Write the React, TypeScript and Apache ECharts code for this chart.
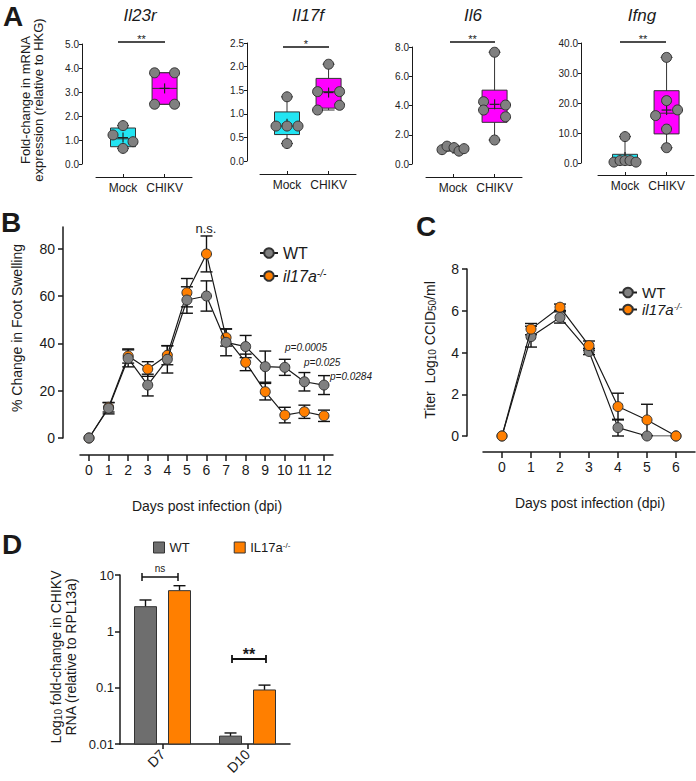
import React, { useEffect, useRef } from 'react';
import * as echarts from 'echarts';

const FONT = '"Liberation Sans", Arial, Helvetica, sans-serif';
const INK = '#1a1a1a';

// ---------------- Panel A data ----------------
const boxCategories = ['Mock', 'CHIKV'];
const geneNames = ['Il23r', 'Il17f', 'Il6', 'Ifng'];
const geneAxisMax = [5, 2.5, 8, 40];
const geneAxisStep = [1, 0.5, 2, 10];
const geneSignificance = ['**', '*', '**', '**'];

// box stats: [min, q1, median, q3, max, mean]
const il23rMockBox = [0.65, 0.72, 1.05, 1.5, 1.6, 1.1];
const il23rChikvBox = [2.49, 2.49, 3.15, 3.8, 3.8, 3.15];
const il17fMockBox = [0.37, 0.56, 0.74, 1.04, 1.36, 0.79];
const il17fChikvBox = [1.08, 1.12, 1.47, 1.75, 2.05, 1.45];
const il6MockBox = [0.88, 0.95, 1.05, 1.15, 1.22, 1.05];
const il6ChikvBox = [1.64, 2.85, 3.8, 5.05, 7.64, 4.08];
const ifngMockBox = [0.3, 0.3, 0.8, 2.9, 8.8, 1.97];
const ifngChikvBox = [5.1, 9.7, 16.6, 24.1, 35.2, 17.65];

// individual mice
const il23rMockPts = [1.6, 1.21, 0.93, 0.65];
const il23rChikvPts = [3.8, 3.8, 2.49, 2.49];
const il17fMockPts = [1.36, 0.74, 0.74, 0.74, 0.37];
const il17fChikvPts = [2.05, 1.47, 1.47, 1.08, 1.18];
const il6MockPts = [0.98, 1.22, 1.12, 0.88, 1.05];
const il6ChikvPts = [7.64, 4.26, 3.69, 4.03, 3.23, 1.64];
const ifngMockPts = [8.8, 0.3, 0.8, 0.8, 0.8, 0.3];
const ifngChikvPts = [35.2, 20.8, 17.7, 15.8, 11.3, 5.1];

// ---------------- Panel B data ----------------
const swellingDays = [0, 1, 2, 3, 4, 5, 6, 7, 8, 9, 10, 11, 12];
const wtSwelling = [0, 12.6, 33.7, 22.4, 33.3, 58.4, 60.1, 40.5, 38.7, 30.2, 29.9, 23.8, 22.4];
const wtSwellingErr = [0, 2.4, 3.6, 4.6, 5.8, 5.6, 6.4, 5.7, 4.7, 6.6, 3.4, 3.9, 4.0];
const koSwelling = [0, 13.0, 34.7, 29.2, 35.0, 61.5, 77.9, 42.5, 32.0, 19.6, 9.7, 11.1, 9.4];
const koSwellingErr = [0, 2.0, 3.0, 3.1, 4.0, 6.0, 7.6, 3.6, 3.5, 3.5, 3.3, 2.8, 2.4];

// ---------------- Panel C data ----------------
const titerDays = [0, 1, 2, 3, 4, 5, 6];
const wtTiter = [0, 4.76, 5.68, 4.05, 0.4, 0, 0];
const wtTiterErr = [0, 0.5, 0.27, 0.15, 0.4, 0, 0];
const koTiter = [0, 5.12, 6.17, 4.33, 1.41, 0.77, 0];
const koTiterErr = [0, 0.27, 0.15, 0.22, 0.64, 0.75, 0];

// ---------------- Panel D data ----------------
const rnaCategories = ['D7', 'D10'];
const rnaTicks = [0.01, 0.1, 1, 10];
const wtRna = [2.74, 0.0138];
const wtRnaErr = [0.86, 0.0019];
const koRna = [5.27, 0.091];
const koRnaErr = [1.19, 0.02];

// ---------------- styling / layout ----------------
const CYAN = '#22e4f2';
const MAGENTA = '#ff00ff';
const GRAY_PT = '#808080';
const ORANGE = '#ff7f00';
const BAR_GRAY = '#6e6e6e';

const aLayout = [
  { left: 96, top: 44, height: 120, yOff: 14, xOff: 13 },
  { left: 260, top: 43, height: 118, yOff: 13, xOff: 13 },
  { left: 426, top: 47, height: 117, yOff: 14, xOff: 13 },
  { left: 598, top: 43, height: 120, yOff: 17, xOff: 12 },
];
const aPanels = [
  { mock: il23rMockBox, chikv: il23rChikvBox, mockPts: il23rMockPts, chikvPts: il23rChikvPts, mockJit: [0, -10, 10, 0], chikvJit: [-10, 10, -10, 10] },
  { mock: il17fMockBox, chikv: il17fChikvBox, mockPts: il17fMockPts, chikvPts: il17fChikvPts, mockJit: [0, -11, 0, 11, 0], chikvJit: [0, -11, 11, -11, 11] },
  { mock: il6MockBox, chikv: il6ChikvBox, mockPts: il6MockPts, chikvPts: il6ChikvPts, mockJit: [-11, -6, 1, 6, 11], chikvJit: [0, -11, -11, 11, 11, 0] },
  { mock: ifngMockBox, chikv: ifngChikvBox, mockPts: ifngMockPts, chikvPts: ifngChikvPts, mockJit: [0, -11, -5, 0, 5, 11], chikvJit: [0, 0, 11, -11, 0, 0] },
];

const lineStyleAxis = { color: INK, width: 1 };

function boxRender(params: any, api: any) {
  const x = api.value(0);
  const p = (v: number) => api.coord([x, v]);
  const [cx, yMin] = p(api.value(1));
  const yQ1 = p(api.value(2))[1];
  const yMed = p(api.value(3))[1];
  const yQ3 = p(api.value(4))[1];
  const yMax = p(api.value(5))[1];
  const yMean = p(api.value(6))[1];
  const hw = 12.5;
  const fill = params.dataIndex === 0 ? CYAN : MAGENTA;
  const st = { stroke: '#333', lineWidth: 1 };
  return {
    type: 'group',
    children: [
      { type: 'line', shape: { x1: cx, y1: yMax, x2: cx, y2: yMin }, style: st },
      { type: 'line', shape: { x1: cx - 6, y1: yMax, x2: cx + 6, y2: yMax }, style: st },
      { type: 'line', shape: { x1: cx - 6, y1: yMin, x2: cx + 6, y2: yMin }, style: st },
      { type: 'rect', shape: { x: cx - hw, y: yQ3, width: hw * 2, height: Math.max(yQ1 - yQ3, 1) }, style: { fill, stroke: '#333', lineWidth: 1 } },
      { type: 'line', shape: { x1: cx - hw, y1: yMed, x2: cx + hw, y2: yMed }, style: st },
      { type: 'line', shape: { x1: cx - 5, y1: yMean, x2: cx + 5, y2: yMean }, style: { stroke: '#222', lineWidth: 1.2 } },
      { type: 'line', shape: { x1: cx, y1: yMean - 5, x2: cx, y2: yMean + 5 }, style: { stroke: '#222', lineWidth: 1.2 } },
    ],
  };
}

function makeErrRender(capHalf: number, dx: number, upOnly: boolean) {
  return (params: any, api: any) => {
    const x = api.value(0);
    const m = api.value(1);
    const e = api.value(2);
    if (!e) return null;
    const top = api.coord([x, m + e]);
    const bot = api.coord([x, upOnly ? m : m - e]);
    const cx = top[0] + dx;
    const st = { stroke: '#111', lineWidth: 1.4 };
    const ch: any[] = [
      { type: 'line', shape: { x1: cx, y1: top[1], x2: cx, y2: bot[1] }, style: st },
      { type: 'line', shape: { x1: cx - capHalf, y1: top[1], x2: cx + capHalf, y2: top[1] }, style: st },
    ];
    if (!upOnly) ch.push({ type: 'line', shape: { x1: cx - capHalf, y1: bot[1], x2: cx + capHalf, y2: bot[1] }, style: st });
    return { type: 'group', children: ch };
  };
}

function makeBarRender(dx: number, fill: string) {
  return (params: any, api: any) => {
    const k = api.value(0);
    const top = api.coord([k, api.value(1)]);
    const base = api.coord([k, rnaTicks[0]]);
    const cx = top[0] + dx;
    return {
      type: 'rect',
      shape: { x: cx - 11, y: top[1], width: 22, height: base[1] - top[1] },
      style: { fill, stroke: '#333', lineWidth: 1 },
    };
  };
}

function txt(x: number, y: number, text: string, o: any = {}) {
  return {
    type: 'text',
    x,
    y,
    rotation: o.rotation || 0,
    silent: true,
    style: {
      text,
      fill: o.fill || INK,
      fontSize: o.fontSize || 12,
      fontFamily: FONT,
      fontStyle: o.fontStyle || 'normal',
      fontWeight: o.fontWeight || 'normal',
      lineHeight: o.lineHeight,
      rich: o.rich,
      align: o.align || 'center',
      textAlign: o.align || 'center',
      verticalAlign: 'middle',
      textVerticalAlign: 'middle',
    },
  };
}
function ln(x1: number, y1: number, x2: number, y2: number, w = 1.5) {
  return { type: 'line', silent: true, shape: { x1, y1, x2, y2 }, style: { stroke: '#111', lineWidth: w } };
}

function buildOption() {
  const grid: any[] = [];
  const xAxis: any[] = [];
  const yAxis: any[] = [];
  const series: any[] = [];
  const graphics: any[] = [];

  // ---------- Panel A ----------
  aLayout.forEach((L, i) => {
    grid.push({ left: L.left, top: L.top, width: 96, height: L.height, containLabel: false, outerBoundsMode: 'none' });
    xAxis.push({
      gridIndex: i, type: 'value', min: 0.35, max: 2.66, offset: L.xOff,
      axisLine: { show: true, onZero: false, lineStyle: lineStyleAxis },
      axisTick: { show: true, customValues: [1, 2], length: 3, inside: true, lineStyle: lineStyleAxis },
      axisLabel: {
        customValues: [1, 2], fontSize: 12, color: INK, margin: 5, fontFamily: FONT,
        formatter: (v: number) => (v === 1 ? boxCategories[0] : v === 2 ? boxCategories[1] : ''),
      },
      splitLine: { show: false },
    });
    yAxis.push({
      gridIndex: i, type: 'value', min: 0, max: geneAxisMax[i], interval: geneAxisStep[i], offset: L.yOff,
      axisLine: { show: true, onZero: false, lineStyle: lineStyleAxis },
      axisTick: { show: true, length: 3, lineStyle: lineStyleAxis },
      axisLabel: { fontSize: 10, color: '#222', margin: 3, fontFamily: FONT, formatter: (v: number) => v.toFixed(1) },
      splitLine: { show: false },
    });
    const P = aPanels[i];
    series.push({
      type: 'custom', xAxisIndex: i, yAxisIndex: i, silent: true, z: 2,
      renderItem: boxRender,
      encode: { x: 0, y: [1, 2, 3, 4, 5, 6] },
      data: [[1, ...P.mock], [2, ...P.chikv]],
    });
    series.push({
      type: 'scatter', xAxisIndex: i, yAxisIndex: i, silent: true, z: 3,
      symbol: 'circle', symbolSize: 10,
      itemStyle: { color: GRAY_PT, borderColor: '#333', borderWidth: 1, opacity: 1 },
      data: [
        ...P.mockPts.map((v, k) => ({ value: [1, v], symbolOffset: [P.mockJit[k], 0] })),
        ...P.chikvPts.map((v, k) => ({ value: [2, v], symbolOffset: [P.chikvJit[k], 0] })),
      ],
    });
  });

  // ---------- Panel B (grid 4) ----------
  grid.push({ left: 80, top: 227, width: 253, height: 211, containLabel: false, outerBoundsMode: 'none' });
  xAxis.push({
    gridIndex: 4, type: 'value', min: -0.46, max: 12.46, offset: 17,
    axisLine: { show: true, onZero: false, lineStyle: { color: INK, width: 1.5 } },
    axisTick: { show: true, customValues: swellingDays, length: 6, lineStyle: { color: INK, width: 1.5 } },
    axisLabel: { customValues: swellingDays, fontSize: 14, color: INK, margin: 8, fontFamily: FONT, formatter: (v: number) => String(v) },
    splitLine: { show: false },
  });
  yAxis.push({
    gridIndex: 4, type: 'value', min: 0, max: 89.3, offset: 17,
    axisLine: { show: true, onZero: false, lineStyle: { color: INK, width: 1.5 } },
    axisTick: { show: true, customValues: [0, 20, 40, 60, 80], length: 5, lineStyle: { color: INK, width: 1.5 } },
    axisLabel: { customValues: [0, 20, 40, 60, 80], fontSize: 14, color: INK, margin: 8, fontFamily: FONT },
    splitLine: { show: false },
  });

  // ---------- Panel C (grid 5) ----------
  grid.push({ left: 483, top: 269, width: 212, height: 167, containLabel: false, outerBoundsMode: 'none' });
  xAxis.push({
    gridIndex: 5, type: 'value', min: -0.655, max: 6.655, offset: 16,
    axisLine: { show: true, onZero: false, lineStyle: { color: INK, width: 1.5 } },
    axisTick: { show: true, customValues: titerDays, length: 6, lineStyle: { color: INK, width: 1.5 } },
    axisLabel: { customValues: titerDays, fontSize: 14, color: INK, margin: 8, fontFamily: FONT, formatter: (v: number) => String(v) },
    splitLine: { show: false },
  });
  yAxis.push({
    gridIndex: 5, type: 'value', min: 0, max: 8, interval: 2, offset: 16,
    axisLine: { show: true, onZero: false, lineStyle: { color: INK, width: 1.5 } },
    axisTick: { show: true, length: 5, lineStyle: { color: INK, width: 1.5 } },
    axisLabel: { fontSize: 14, color: INK, margin: 8, fontFamily: FONT },
    splitLine: { show: false },
  });

  // ---------- Panel D (grid 6) ----------
  grid.push({ left: 120, top: 575, width: 170, height: 169, containLabel: false, outerBoundsMode: 'none' });
  xAxis.push({
    gridIndex: 6, type: 'category', data: rnaCategories,
    axisLine: { show: true, onZero: false, lineStyle: { color: INK, width: 1.5 } },
    axisTick: { show: true, alignWithLabel: true, length: 5, lineStyle: { color: INK, width: 1.5 } },
    axisLabel: { fontSize: 14, color: INK, rotate: 45, margin: 8, fontFamily: FONT },
  });
  yAxis.push({
    gridIndex: 6, type: 'log', logBase: 10, min: rnaTicks[0], max: rnaTicks[rnaTicks.length - 1],
    axisLine: { show: true, onZero: false, lineStyle: { color: INK, width: 1.5 } },
    axisTick: { show: true, length: 5, lineStyle: { color: INK, width: 1.5 } },
    minorTick: { show: false },
    axisLabel: { fontSize: 13, color: INK, margin: 6, fontFamily: FONT, formatter: (v: number) => String(+v.toPrecision(3)) },
    splitLine: { show: false },
  });

  const errB = (vals: number[], errs: number[]) => swellingDays.map((d, k) => [d, vals[k], errs[k]]);
  const errC = (vals: number[], errs: number[]) => titerDays.map((d, k) => [d, vals[k], errs[k]]);

  const lineSer = (name: string, xs: number[], vals: number[], color: string, gi: number, z: number) => ({
    type: 'line', name, xAxisIndex: gi, yAxisIndex: gi, z, silent: true,
    data: xs.map((d, k) => [d, vals[k]]),
    symbol: 'circle', symbolSize: 10, showSymbol: true,
    itemStyle: { color, borderColor: '#333', borderWidth: 1 },
    lineStyle: { color: INK, width: 1.2 },
    emphasis: { disabled: true },
  });

  // B
  series.push({ type: 'custom', xAxisIndex: 4, yAxisIndex: 4, z: 2, silent: true, renderItem: makeErrRender(6, 0, false), encode: { x: 0, y: 1 }, data: errB(koSwelling, koSwellingErr) });
  series.push({ type: 'custom', xAxisIndex: 4, yAxisIndex: 4, z: 2, silent: true, renderItem: makeErrRender(6, 0, false), encode: { x: 0, y: 1 }, data: errB(wtSwelling, wtSwellingErr) });
  series.push(lineSer('il17a', swellingDays, koSwelling, ORANGE, 4, 3));
  series.push(lineSer('WT', swellingDays, wtSwelling, GRAY_PT, 4, 4));

  // C
  series.push({ type: 'custom', xAxisIndex: 5, yAxisIndex: 5, z: 2, silent: true, renderItem: makeErrRender(6, 0, false), encode: { x: 0, y: 1 }, data: errC(wtTiter, wtTiterErr) });
  series.push({ type: 'custom', xAxisIndex: 5, yAxisIndex: 5, z: 2, silent: true, renderItem: makeErrRender(6, 0, false), encode: { x: 0, y: 1 }, data: errC(koTiter, koTiterErr) });
  series.push(lineSer('WT_C', titerDays, wtTiter, GRAY_PT, 5, 3));
  series.push(lineSer('il17a_C', titerDays, koTiter, ORANGE, 5, 4));

  // D : bars drawn from the log axis floor through the axis scales
  series.push({
    type: 'custom', name: 'WT_D', xAxisIndex: 6, yAxisIndex: 6, z: 2, silent: true,
    itemStyle: { color: BAR_GRAY, borderColor: '#333', borderWidth: 1 },
    renderItem: makeBarRender(-17, BAR_GRAY), encode: { x: 0, y: 1 },
    data: rnaCategories.map((c, k) => [k, wtRna[k]]),
  });
  series.push({
    type: 'custom', name: 'IL17a_D', xAxisIndex: 6, yAxisIndex: 6, z: 2, silent: true,
    itemStyle: { color: ORANGE, borderColor: '#333', borderWidth: 1 },
    renderItem: makeBarRender(17, ORANGE), encode: { x: 0, y: 1 },
    data: rnaCategories.map((c, k) => [k, koRna[k]]),
  });
  series.push({ type: 'custom', xAxisIndex: 6, yAxisIndex: 6, z: 1, silent: true, renderItem: makeErrRender(6, -17, true), encode: { x: 0, y: 1 }, data: rnaCategories.map((c, k) => [k, wtRna[k], wtRnaErr[k]]) });
  series.push({ type: 'custom', xAxisIndex: 6, yAxisIndex: 6, z: 1, silent: true, renderItem: makeErrRender(6, 17, true), encode: { x: 0, y: 1 }, data: rnaCategories.map((c, k) => [k, koRna[k], koRnaErr[k]]) });

  // ---------- annotations ----------
  const letter = { fontSize: 28, fontWeight: 'bold' };
  graphics.push(txt(13, 16, 'A', letter), txt(11, 222, 'B', letter), txt(426, 226, 'C', letter), txt(12, 544, 'D', letter));

  const titleX = [140, 308, 473, 642];
  geneNames.forEach((g, i) => graphics.push(txt(titleX[i], 15, g, { fontSize: 17, fontStyle: 'italic' })));
  const sig = [
    [118, 165, 42],
    [283, 329, 47],
    [450, 495, 42],
    [620, 666, 42],
  ];
  sig.forEach((s, i) => {
    graphics.push(ln(s[0], s[2], s[1], s[2], 1.6));
    graphics.push(txt((s[0] + s[1]) / 2, s[2] - 3, geneSignificance[i], { fontSize: 11 }));
  });
  graphics.push(txt(32, 100, 'Fold-change in mRNA\nexpression (relative to HKG)', { fontSize: 13, lineHeight: 13, rotation: Math.PI / 2 }));

  // B annotations
  graphics.push(txt(17, 328, '% Change in Foot Swelling', { fontSize: 14, rotation: Math.PI / 2 }));
  graphics.push(txt(207, 506, 'Days post infection (dpi)', { fontSize: 14 }));
  graphics.push(txt(206, 228, 'n.s.', { fontSize: 13 }));
  graphics.push(txt(285, 347, 'p=0.0005', { fontSize: 10, fontStyle: 'italic', align: 'left' }));
  graphics.push(txt(304, 362, 'p=0.025', { fontSize: 10, fontStyle: 'italic', align: 'left' }));
  graphics.push(txt(330, 376, 'p=0.0284', { fontSize: 10, fontStyle: 'italic', align: 'left' }));

  // C annotations
  graphics.push(txt(430, 350, '{n|Titer  Log}{s|10}{n| CCID}{s|50}{n|/ml}', {
    rotation: Math.PI / 2,
    rich: {
      n: { fontSize: 14, fontFamily: FONT, fill: INK, color: INK },
      s: { fontSize: 10, fontFamily: FONT, fill: INK, color: INK, verticalAlign: 'bottom' },
    },
  }));
  graphics.push(txt(590, 503, 'Days post infection (dpi)', { fontSize: 14 }));

  // D annotations
  graphics.push(txt(63, 657, '{n|Log}{s|10}{n| fold-change in CHIKV}\n{n|RNA (relative to RPL13a)}', {
    rotation: Math.PI / 2,
    rich: {
      n: { fontSize: 14, fontFamily: FONT, fill: INK, color: INK, lineHeight: 15 },
      s: { fontSize: 10, fontFamily: FONT, fill: INK, color: INK, verticalAlign: 'bottom', lineHeight: 15 },
    },
  }));
  graphics.push(ln(142, 577, 178, 577, 1.5), ln(142, 573, 142, 581, 1.5), ln(178, 573, 178, 581, 1.5));
  graphics.push(txt(160, 568, 'ns', { fontSize: 10 }));
  graphics.push(ln(232, 659, 266, 659, 1.8), ln(232, 655, 232, 663, 1.8), ln(266, 655, 266, 663, 1.8));
  graphics.push(txt(249, 654, '**', { fontSize: 16, fontWeight: 'bold' }));

  const supRich = (size: number, italic: boolean) => ({
    i: { fontSize: size, fontFamily: FONT, fontStyle: italic ? 'italic' : 'normal', color: INK },
    s: { fontSize: Math.round(size * 0.6), fontFamily: FONT, fontStyle: italic ? 'italic' : 'normal', color: INK, verticalAlign: 'top' },
  });

  const legend = [
    {
      data: ['WT', 'il17a'], orient: 'vertical', left: 254, top: 240, itemWidth: 18, itemHeight: 12, itemGap: 7,
      selectedMode: false,
      textStyle: { fontSize: 16, fontFamily: FONT, color: INK, lineHeight: 16, rich: supRich(16, true) },
      formatter: (n: string) => (n === 'WT' ? 'WT' : '{i|il17a}{s|-/-}'),
    },
    {
      data: ['WT_C', 'il17a_C'], orient: 'vertical', left: 613, top: 280, itemWidth: 18, itemHeight: 12, itemGap: 2,
      selectedMode: false,
      textStyle: { fontSize: 15, fontFamily: FONT, color: INK, lineHeight: 15, rich: supRich(15, true) },
      formatter: (n: string) => (n === 'WT_C' ? 'WT' : '{i|il17a}{s|-/-}'),
    },
    {
      data: ['WT_D', 'IL17a_D'], orient: 'horizontal', left: 148, top: 536, itemWidth: 11, itemHeight: 11, itemGap: 44,
      icon: 'rect', selectedMode: false,
      itemStyle: { borderColor: '#333', borderWidth: 1 },
      textStyle: { fontSize: 13, fontFamily: FONT, color: INK, rich: supRich(13, false) },
      formatter: (n: string) => (n === 'WT_D' ? 'WT' : '{i|IL17a}{s|-/-}'),
    },
  ];

  return {
    animation: false,
    backgroundColor: '#ffffff',
    textStyle: { fontFamily: FONT },
    grid,
    xAxis,
    yAxis,
    legend,
    series,
    graphic: { elements: graphics },
  };
}

export default function App() {
  const ref = useRef<HTMLDivElement>(null);
  useEffect(() => {
    if (!ref.current) return;
    const chart = echarts.init(ref.current, null, { renderer: 'svg' });
    chart.setOption(buildOption() as any);
    return () => chart.dispose();
  }, []);
  return (
    <div
      ref={ref}
      style={{ position: 'absolute', left: 0, top: 0, width: 696, height: 781, background: '#fff' }}
    />
  );
}
